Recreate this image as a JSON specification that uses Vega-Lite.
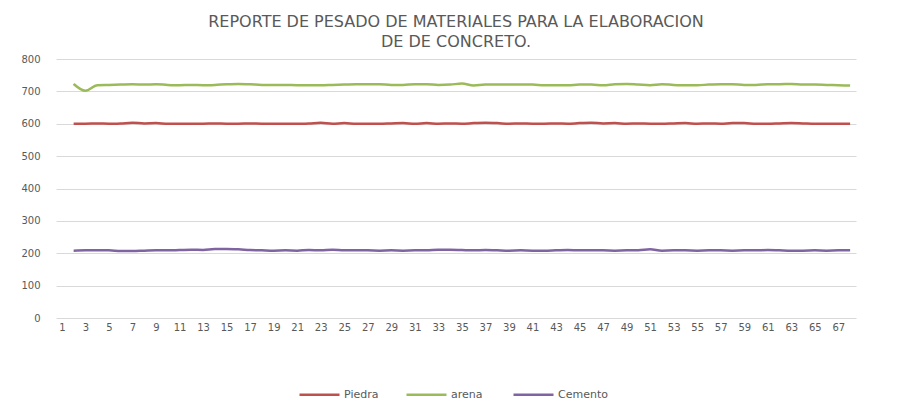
{
  "$schema": "https://vega.github.io/schema/vega-lite/v6.json",
  "autosize": "none",
  "width": 800,
  "height": 259,
  "padding": {"left": 56, "top": 59, "right": 41, "bottom": 87},
  "background": "white",
  "title": {
    "text": ["REPORTE DE PESADO DE MATERIALES PARA LA ELABORACION", "DE  DE CONCRETO."],
    "font": "DejaVu Sans",
    "fontSize": 16,
    "fontWeight": "normal",
    "color": "#595959",
    "lineHeight": 20,
    "anchor": "middle",
    "offset": 4
  },
  "data": {
    "values": [
      {"n": 2, "Piedra": 600, "arena": 723, "Cemento": 208},
      {"n": 3, "Piedra": 600, "arena": 702, "Cemento": 209},
      {"n": 4, "Piedra": 601, "arena": 719, "Cemento": 209},
      {"n": 5, "Piedra": 600, "arena": 720, "Cemento": 209},
      {"n": 6, "Piedra": 601, "arena": 721, "Cemento": 207},
      {"n": 7, "Piedra": 603, "arena": 722, "Cemento": 207},
      {"n": 8, "Piedra": 601, "arena": 721, "Cemento": 208},
      {"n": 9, "Piedra": 602, "arena": 722, "Cemento": 209},
      {"n": 10, "Piedra": 600, "arena": 720, "Cemento": 209},
      {"n": 11, "Piedra": 600, "arena": 719, "Cemento": 210},
      {"n": 12, "Piedra": 600, "arena": 720, "Cemento": 211},
      {"n": 13, "Piedra": 600, "arena": 719, "Cemento": 210},
      {"n": 14, "Piedra": 601, "arena": 720, "Cemento": 213},
      {"n": 15, "Piedra": 600, "arena": 722, "Cemento": 213},
      {"n": 16, "Piedra": 600, "arena": 723, "Cemento": 212},
      {"n": 17, "Piedra": 601, "arena": 722, "Cemento": 210},
      {"n": 18, "Piedra": 600, "arena": 720, "Cemento": 209},
      {"n": 19, "Piedra": 600, "arena": 720, "Cemento": 208},
      {"n": 20, "Piedra": 600, "arena": 720, "Cemento": 209},
      {"n": 21, "Piedra": 600, "arena": 719, "Cemento": 208},
      {"n": 22, "Piedra": 601, "arena": 719, "Cemento": 210},
      {"n": 23, "Piedra": 603, "arena": 719, "Cemento": 209},
      {"n": 24, "Piedra": 600, "arena": 720, "Cemento": 211},
      {"n": 25, "Piedra": 602, "arena": 721, "Cemento": 209},
      {"n": 26, "Piedra": 600, "arena": 722, "Cemento": 209},
      {"n": 27, "Piedra": 600, "arena": 722, "Cemento": 209},
      {"n": 28, "Piedra": 600, "arena": 722, "Cemento": 208},
      {"n": 29, "Piedra": 601, "arena": 720, "Cemento": 209},
      {"n": 30, "Piedra": 602, "arena": 720, "Cemento": 208},
      {"n": 31, "Piedra": 600, "arena": 722, "Cemento": 209},
      {"n": 32, "Piedra": 602, "arena": 722, "Cemento": 209},
      {"n": 33, "Piedra": 600, "arena": 720, "Cemento": 211},
      {"n": 34, "Piedra": 601, "arena": 721, "Cemento": 211},
      {"n": 35, "Piedra": 600, "arena": 724, "Cemento": 210},
      {"n": 36, "Piedra": 602, "arena": 718, "Cemento": 209},
      {"n": 37, "Piedra": 603, "arena": 721, "Cemento": 210},
      {"n": 38, "Piedra": 602, "arena": 721, "Cemento": 209},
      {"n": 39, "Piedra": 600, "arena": 721, "Cemento": 208},
      {"n": 40, "Piedra": 601, "arena": 721, "Cemento": 209},
      {"n": 41, "Piedra": 600, "arena": 721, "Cemento": 208},
      {"n": 42, "Piedra": 600, "arena": 719, "Cemento": 208},
      {"n": 43, "Piedra": 601, "arena": 719, "Cemento": 209},
      {"n": 44, "Piedra": 600, "arena": 719, "Cemento": 210},
      {"n": 45, "Piedra": 602, "arena": 721, "Cemento": 209},
      {"n": 46, "Piedra": 603, "arena": 721, "Cemento": 209},
      {"n": 47, "Piedra": 601, "arena": 719, "Cemento": 209},
      {"n": 48, "Piedra": 602, "arena": 722, "Cemento": 208},
      {"n": 49, "Piedra": 600, "arena": 723, "Cemento": 209},
      {"n": 50, "Piedra": 601, "arena": 721, "Cemento": 209},
      {"n": 51, "Piedra": 600, "arena": 719, "Cemento": 212},
      {"n": 52, "Piedra": 600, "arena": 722, "Cemento": 208},
      {"n": 53, "Piedra": 601, "arena": 720, "Cemento": 209},
      {"n": 54, "Piedra": 602, "arena": 719, "Cemento": 209},
      {"n": 55, "Piedra": 600, "arena": 719, "Cemento": 208},
      {"n": 56, "Piedra": 601, "arena": 721, "Cemento": 209},
      {"n": 57, "Piedra": 600, "arena": 722, "Cemento": 209},
      {"n": 58, "Piedra": 602, "arena": 722, "Cemento": 208},
      {"n": 59, "Piedra": 602, "arena": 720, "Cemento": 209},
      {"n": 60, "Piedra": 600, "arena": 720, "Cemento": 209},
      {"n": 61, "Piedra": 600, "arena": 722, "Cemento": 210},
      {"n": 62, "Piedra": 601, "arena": 722, "Cemento": 209},
      {"n": 63, "Piedra": 602, "arena": 723, "Cemento": 208},
      {"n": 64, "Piedra": 601, "arena": 721, "Cemento": 208},
      {"n": 65, "Piedra": 600, "arena": 721, "Cemento": 209},
      {"n": 66, "Piedra": 600, "arena": 720, "Cemento": 208},
      {"n": 67, "Piedra": 600, "arena": 719, "Cemento": 209},
      {"n": 68, "Piedra": 600, "arena": 718, "Cemento": 209}
    ]
  },
  "transform": [
    {"fold": ["Piedra", "arena", "Cemento"], "as": ["serie", "valor"]}
  ],
  "mark": {"type": "line", "strokeWidth": 2.5, "interpolate": "monotone"},
  "encoding": {
    "x": {
      "field": "n",
      "type": "ordinal",
      "scale": {"type": "point", "padding": 0.5, "domain": [1,2,3,4,5,6,7,8,9,10,11,12,13,14,15,16,17,18,19,20,21,22,23,24,25,26,27,28,29,30,31,32,33,34,35,36,37,38,39,40,41,42,43,44,45,46,47,48,49,50,51,52,53,54,55,56,57,58,59,60,61,62,63,64,65,66,67,68]},
      "axis": {
        "title": null,
        "values": [1,3,5,7,9,11,13,15,17,19,21,23,25,27,29,31,33,35,37,39,41,43,45,47,49,51,53,55,57,59,61,63,65,67],
        "labelAngle": 0,
        "labelFont": "DejaVu Sans",
        "labelFontSize": 10,
        "labelColor": "#595959",
        "labelPadding": 4,
        "domain": false,
        "ticks": false,
        "grid": false
      }
    },
    "y": {
      "field": "valor",
      "type": "quantitative",
      "scale": {"domain": [0, 800], "nice": false, "zero": true},
      "axis": {
        "title": null,
        "values": [0,100,200,300,400,500,600,700,800],
        "labelFont": "DejaVu Sans",
        "labelFontSize": 10,
        "labelColor": "#595959",
        "labelPadding": 16,
        "domain": false,
        "ticks": false,
        "grid": true,
        "gridColor": "#D9D9D9",
        "gridWidth": 1
      }
    },
    "color": {
      "field": "serie",
      "type": "nominal",
      "sort": ["Piedra", "arena", "Cemento"],
      "scale": {"domain": ["Piedra", "arena", "Cemento"], "range": ["#C0504D", "#9BBB59", "#8064A2"]},
      "legend": {
        "title": null,
        "orient": "none",
        "legendX": 242,
        "legendY": 314,
        "direction": "horizontal",
        "columns": 3,
        "gridAlign": "all",
        "symbolType": "stroke",
        "symbolSize": 1600,
        "symbolStrokeWidth": 2.5,
        "labelFont": "DejaVu Sans",
        "labelFontSize": 11,
        "labelColor": "#595959",
        "labelOffset": 3,
        "columnPadding": 7
      }
    }
  },
  "config": {
    "view": {"stroke": null}
  }
}
